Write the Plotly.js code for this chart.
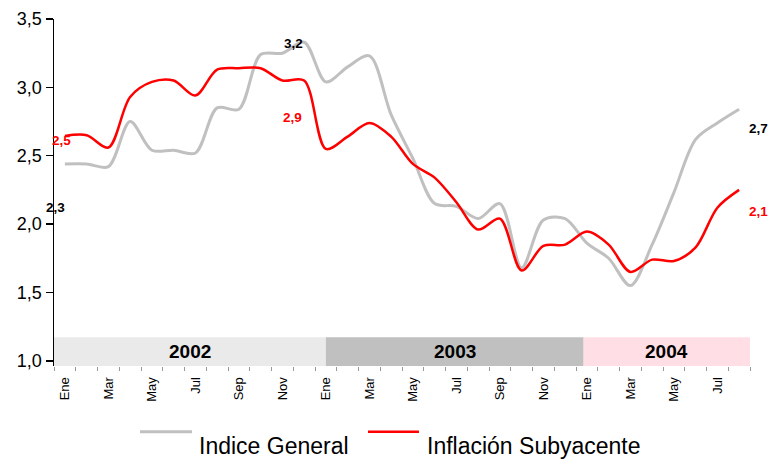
<!DOCTYPE html>
<html>
<head>
<meta charset="utf-8">
<script src="https://cdn.plot.ly/plotly-3.0.1.min.js"></script>
<style>html,body{margin:0;padding:0;background:#fff;}#chart{width:774px;height:463px;}</style>
</head>
<body>
<div id="chart"></div>
<script>
// Month categories: Ene 2002 .. Ago 2004 (index 0..31)
const months = ["Ene","Feb","Mar","Abr","May","Jun","Jul","Ago","Sep","Oct","Nov","Dic",
                "Ene","Feb","Mar","Abr","May","Jun","Jul","Ago","Sep","Oct","Nov","Dic",
                "Ene","Feb","Mar","Abr","May","Jun","Jul","Ago"];
const monthIndex = months.map((m, i) => i);
const indiceGeneral = [2.44,2.44,2.42,2.75,2.54,2.54,2.52,2.85,2.84,3.24,3.25,3.33,
                       3.04,3.15,3.23,2.80,2.48,2.15,2.13,2.04,2.15,1.68,2.03,2.04,
                       1.86,1.75,1.55,1.85,2.23,2.62,2.74,2.84];
const inflacionSubyacente = [2.645,2.65,2.56,2.93,3.04,3.05,2.94,3.13,3.14,3.14,3.05,3.05,
                             2.55,2.64,2.74,2.64,2.44,2.34,2.16,1.96,2.04,1.66,1.84,1.85,
                             1.945,1.85,1.65,1.74,1.73,1.83,2.12,2.25];
const seriesNames = ["Indice General","Inflación Subyacente"];
const seriesColors = ["#c0c0c0","#ff0000"];
const tickVals = [0,2,4,6,8,10,12,14,16,18,20,22,24,26,28,30];
const tickText = tickVals.map(i => months[i]);
const years = ["2002","2003","2004"];
const yearStart = [-0.5, 12, 23.85];
const yearEnd = [12, 23.85, 31.5];
const yearColors = ["#eaeaea","#c0c0c0","#ffdfe5"];
// value labels (first four in data coords, last two past the plot's right edge)
const labelText = ["2,5","2,3","3,2","2,9","2,7","2,1"];
const labelX = [-0.14,-0.41,10.53,10.48,1.0115,1.0115];
const labelXref = ["x","x","x","x","paper","paper"];
const labelY = [2.615,2.12,3.32,2.78,2.70,2.09];
const labelColor = ["#ff0000","#000000","#000000","#ff0000","#000000","#ff0000"];

const FONT = "Arial, Liberation Sans, sans-serif";

const traces = [
  {x: monthIndex, y: indiceGeneral, name: seriesNames[0], type: "scatter", mode: "lines",
   line: {color: seriesColors[0], width: 3, shape: "spline", smoothing: 0.9}},
  {x: monthIndex, y: inflacionSubyacente, name: seriesNames[1], type: "scatter", mode: "lines",
   line: {color: seriesColors[1], width: 2.5, shape: "spline", smoothing: 0.9}}
];

const shapes = years.map((y, i) => ({
  type: "rect", xref: "x", yref: "y", x0: yearStart[i], x1: yearEnd[i], y0: 0.962, y1: 1.172,
  fillcolor: yearColors[i], line: {width: 0}, layer: "below"
}));
// legend keys (Excel-style: line sample above-left of text)
const legKeyX0 = [0.1236, 0.4511], legKeyX1 = [0.1983, 0.5244], legTextX = [0.2055, 0.533];
seriesNames.forEach((n, i) => {
  shapes.push({type: "line", xref: "paper", yref: "paper", x0: legKeyX0[i], x1: legKeyX1[i],
    y0: -0.1892, y1: -0.1892, line: {color: seriesColors[i], width: i === 0 ? 3 : 2.5}});
});

const annotations = years.map((y, i) => ({
  x: (yearStart[i] + yearEnd[i]) / 2, y: 1.068, xref: "x", yref: "y", text: "<b>" + y + "</b>",
  showarrow: false, font: {family: FONT, size: 19, color: "#000"}
})).concat(labelText.map((t, i) => ({
  x: labelX[i], y: labelY[i], xref: labelXref[i], yref: "y", xanchor: "center", yanchor: "middle",
  text: "<b>" + t + "</b>", showarrow: false,
  font: {family: FONT, size: 13.5, color: labelColor[i]}
}))).concat(seriesNames.map((n, i) => ({
  x: legTextX[i], y: -0.2295, xref: "paper", yref: "paper", xanchor: "left", yanchor: "middle",
  text: n, showarrow: false, font: {family: FONT, size: 23, color: "#000"}
})));

const layout = {
  width: 774, height: 463,
  margin: {l: 54, r: 24, t: 18.5, b: 96.8},
  paper_bgcolor: "#fff", plot_bgcolor: "#fff",
  separators: ",.",
  font: {family: FONT, color: "#000"},
  xaxis: {
    range: [-0.5, 31.5], showgrid: false, zeroline: false, showline: false, automargin: false,
    tickmode: "array", tickvals: tickVals, ticktext: tickText, tickangle: -90,
    ticks: "outside", ticklen: 5, tickcolor: "rgba(0,0,0,0)",
    tickfont: {size: 13, color: "#000"},
    minor: {tick0: -0.5, dtick: 1, ticks: "outside", ticklen: 4, tickcolor: "#999", tickwidth: 1}
  },
  yaxis: {
    range: [0.962, 3.5], showgrid: false, zeroline: false, showline: true, linecolor: "#000", linewidth: 1.5,
    automargin: false,
    tickmode: "array", tickvals: [1,1.5,2,2.5,3,3.5], tickformat: ".1f",
    ticks: "outside", ticklen: 7, tickcolor: "#000", tickwidth: 1.5,
    tickfont: {size: 18, color: "#000"}
  },
  showlegend: false,
  shapes: shapes,
  annotations: annotations
};

Plotly.newPlot("chart", traces, layout, {displayModeBar: false, staticPlot: true});
</script>
</body>
</html>
